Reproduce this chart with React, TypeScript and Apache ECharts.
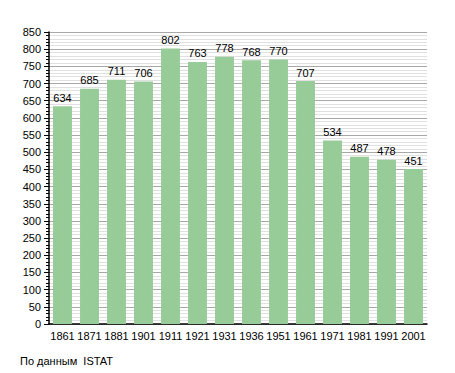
import React, { useEffect, useRef } from "react";
import * as echarts from "echarts";

const categories = ["1861", "1871", "1881", "1901", "1911", "1921", "1931", "1936", "1951", "1961", "1971", "1981", "1991", "2001"];
const population = [634, 685, 711, 706, 802, 763, 778, 768, 770, 707, 534, 487, 478, 451];
const sourceNote = "По данным  ISTAT";

export default function App() {
  const ref = useRef<HTMLDivElement>(null);
  useEffect(() => {
    const chart = echarts.init(ref.current!, undefined, { renderer: "svg" });
    const font = "'Liberation Sans', Arial, sans-serif";
    chart.setOption({
      animation: false,
      backgroundColor: "#ffffff",
      grid: { left: 49, right: 28, top: 32, bottom: 49 },
      xAxis: {
        type: "category",
        data: categories,
        axisLine: { show: true, lineStyle: { color: "#000", width: 1.5 } },
        axisTick: { show: false },
        axisLabel: { color: "#000", fontSize: 11, fontFamily: font, margin: 6, interval: 0 },
      },
      yAxis: {
        type: "value",
        min: 0,
        max: 850,
        interval: 50,
        axisLine: { show: true, lineStyle: { color: "#000", width: 1.5 } },
        axisTick: { show: true, inside: false, length: 5, lineStyle: { color: "#000" } },
        minorTick: { show: true, splitNumber: 5, length: 3, lineStyle: { color: "#000" } },
        axisLabel: { color: "#000", fontSize: 11, fontFamily: font, margin: 8 },
        splitLine: { show: true, lineStyle: { color: "#a8a8a8", width: 1 } },
        minorSplitLine: { show: true, lineStyle: { color: "#e0e0e0", width: 1 } },
      },
      series: [
        {
          type: "bar",
          data: population,
          barCategoryGap: "30%",
          itemStyle: { color: "#97cb97" },
          label: { show: true, position: "top", color: "#000", fontSize: 11, fontFamily: font, distance: 3 },
        },
      ],
      graphic: [
        {
          type: "text",
          left: 20,
          top: 355,
          style: { text: sourceNote, fill: "#000", fontSize: 11, fontFamily: font },
        },
      ],
    });
    return () => chart.dispose();
  }, []);
  return <div ref={ref} style={{ width: 455, height: 373, position: "absolute", left: 0, top: 0 }} />;
}
